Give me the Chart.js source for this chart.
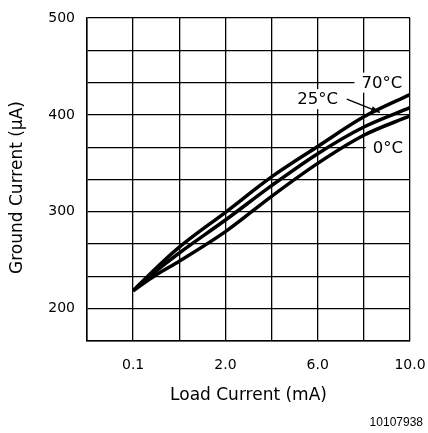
<!DOCTYPE html>
<html>
<head>
<meta charset="utf-8">
<script src="https://cdn.jsdelivr.net/npm/chart.js@4"></script>
<style>
  html, body { margin: 0; padding: 0; background: #fff; }
  canvas { display: block; }
</style>
</head>
<body>
<canvas id="c" width="428" height="433"></canvas>
<script>
// ---- data ----
const loadCurrent = [0.1, 0.575, 1.05, 2, 4, 6, 8, 10];            // mA
const ground70 = [218.5, 242, 263.5, 299.5, 336, 367.4, 398, 421];   // µA
const ground25 = [218.5, 239, 257.5, 291.5, 327, 360, 387.5, 407.5];
const ground0  = [218.5, 235, 249, 279.5, 316, 350, 379, 399];
const seriesNames = ['70°C', '25°C', '0°C'];

// axis ticks
const xTickLabels = ['0.1', '2.0', '6.0', '10.0'];
const xTickValues = [0.1, 2.0, 6.0, 10.0];   // mA at labelled grid lines
const xTickGridIndex = [1, 3, 5, 7];         // grid line index of each labelled value
const xGridCount = 7;
const yTickLabels = [200, 300, 400, 500];
const yMax = 500;
const yStep = 100 / 3;
const yRows = 10;
const yMin = yMax - yRows * yStep;

// non-uniform x axis: piecewise linear between labelled grid lines
function toAxis(mA) {
  let i = 0;
  while (i < xTickValues.length - 2 && mA > xTickValues[i + 1]) i++;
  const a = xTickValues[i], b = xTickValues[i + 1];
  const pa = xTickGridIndex[i], pb = xTickGridIndex[i + 1];
  return pa + (mA - a) * (pb - pa) / (b - a);
}

function pts(vals) { return loadCurrent.map((m, i) => ({ x: toAxis(m), y: vals[i] })); }

// curve labels (data coords: mA, µA)
const curveLabels = [
  { text: '70°C', x: 8.78, y: 433.3 },
  { text: '25°C', x: 6.0,  y: 416.3 },
  { text: '0°C',  x: 9.04, y: 365.7 }
];
const leader = { x1: 7.26, y1: 416.3, x2: 8.7, y2: 402.5 };

const FONT = '"DejaVu Sans", sans-serif';

const annot = {
  id: 'annot',
  beforeDatasetsDraw(chart) {
    const ctx = chart.ctx, xs = chart.scales.x, ys = chart.scales.y;
    ctx.save();
    ctx.font = '16.5px ' + FONT;
    ctx.textAlign = 'center';
    ctx.textBaseline = 'middle';
    const area = chart.chartArea;
    curveLabels.forEach(l => {
      const px = xs.getPixelForValue(toAxis(l.x));
      const py = ys.getPixelForValue(l.y);
      const w = ctx.measureText(l.text).width;
      let x0 = px - w / 2 - 7, x1 = px + w / 2 + 7;
      x1 = Math.min(x1, area.right - 1);
      ctx.fillStyle = '#fff';
      ctx.fillRect(x0, py - 10, x1 - x0, 20);
      ctx.fillStyle = '#000';
      ctx.fillText(l.text, px, py + 1);
    });
    // leader line with arrow
    const ax = xs.getPixelForValue(toAxis(leader.x1)), ay = ys.getPixelForValue(leader.y1);
    const bx = xs.getPixelForValue(toAxis(leader.x2)), by = ys.getPixelForValue(leader.y2);
    ctx.strokeStyle = '#000';
    ctx.lineWidth = 1.3;
    ctx.beginPath(); ctx.moveTo(ax, ay); ctx.lineTo(bx, by); ctx.stroke();
    const ang = Math.atan2(by - ay, bx - ax);
    ctx.beginPath();
    ctx.moveTo(bx, by);
    ctx.lineTo(bx - 9 * Math.cos(ang) + 3 * Math.sin(ang), by - 9 * Math.sin(ang) - 3 * Math.cos(ang));
    ctx.lineTo(bx - 9 * Math.cos(ang) - 3 * Math.sin(ang), by - 9 * Math.sin(ang) + 3 * Math.cos(ang));
    ctx.closePath();
    ctx.fillStyle = '#000';
    ctx.fill();
    ctx.restore();
  },
  afterDraw(chart) {
    const ctx = chart.ctx, area = chart.chartArea;
    ctx.save();
    ctx.fillStyle = '#000';
    ctx.font = '17px ' + FONT;
    ctx.textAlign = 'center';
    ctx.textBaseline = 'middle';
    ctx.translate(18, (area.top + area.bottom) / 2 + 8);
    ctx.rotate(-Math.PI / 2);
    ctx.fillText('Ground Current (µA)', 0, 0);
    ctx.restore();
    ctx.save();
    ctx.fillStyle = '#000';
    ctx.font = '12px "Liberation Sans", Arial, sans-serif';
    ctx.textAlign = 'right';
    ctx.textBaseline = 'middle';
    ctx.fillText('10107938', 423, 423);
    ctx.restore();
  }
};

const lineStyle = { borderColor: '#000', borderWidth: 3.5, pointRadius: 0, fill: false,
  tension: 0.4, cubicInterpolationMode: 'monotone', borderCapStyle: 'butt' };

new Chart(document.getElementById('c'), {
  type: 'line',
  data: {
    datasets: [
      Object.assign({ label: seriesNames[0], data: pts(ground70) }, lineStyle),
      Object.assign({ label: seriesNames[1], data: pts(ground25) }, lineStyle),
      Object.assign({ label: seriesNames[2], data: pts(ground0) }, lineStyle)
    ]
  },
  options: {
    responsive: false,
    animation: false,
    devicePixelRatio: 1,
    layout: { padding: { left: 0, right: 18, top: 18, bottom: 0 } },
    plugins: { legend: { display: false }, tooltip: { enabled: false } },
    scales: {
      x: {
        type: 'linear',
        min: 0, max: xGridCount,
        afterBuildTicks(s) { s.ticks = Array.from({ length: xGridCount + 1 }, (_, i) => ({ value: i })); },
        afterFit(s) { s.height = 92; s.paddingLeft = 0; s.paddingRight = 0; },
        grid: { color: '#000', lineWidth: 1.3, drawTicks: false },
        border: { color: '#000', width: 1.5 },
        ticks: {
          padding: 16, color: '#000', font: { family: FONT, size: 14 }, maxRotation: 0, autoSkip: false,
          callback(v) { const k = xTickGridIndex.indexOf(Math.round(v)); return k >= 0 ? xTickLabels[k] : ''; }
        },
        title: { display: true, text: 'Load Current (mA)', color: '#000',
          font: { family: FONT, size: 17 }, padding: { top: 0, bottom: 27 } }
      },
      y: {
        type: 'linear',
        min: yMin, max: yMax,
        afterBuildTicks(s) { s.ticks = Array.from({ length: yRows + 1 }, (_, i) => ({ value: yMin + i * yStep })); },
        afterFit(s) { s.width = 87; s.paddingTop = 0; s.paddingBottom = 0; },
        grid: { color: '#000', lineWidth: 1.3, drawTicks: false },
        border: { color: '#000', width: 1.5 },
        ticks: {
          padding: 12, color: '#000', font: { family: FONT, size: 14 }, autoSkip: false,
          callback(v) { const t = yTickLabels.find(l => Math.abs(l - v) < 0.5); return t !== undefined ? String(t) : ''; }
        }
      }
    }
  },
  plugins: [annot]
});
</script>
</body>
</html>
